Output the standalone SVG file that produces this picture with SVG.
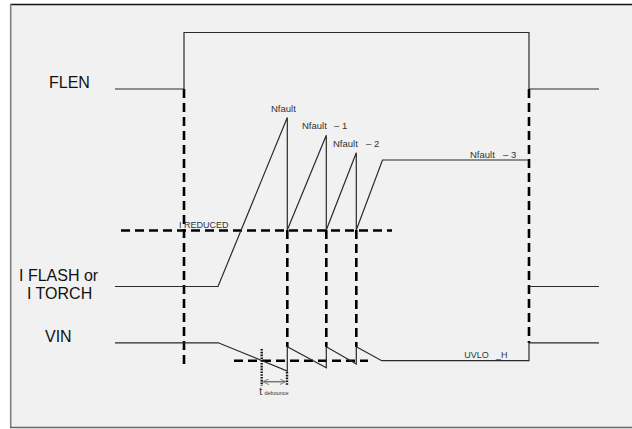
<svg xmlns="http://www.w3.org/2000/svg" width="632" height="429" viewBox="0 0 632 429">
<defs>
<style>
.sig{fill:none;stroke:#2a2a2a;stroke-width:1.2}
.dash{fill:none;stroke:#000;stroke-width:2.6;stroke-dasharray:9,5}
.dot{fill:none;stroke:#111;stroke-width:2.4;stroke-dasharray:1.6,1.2}
.lbl{font-family:"Liberation Sans",Arial,sans-serif;fill:#111}
.big{font-size:16px}
.sm{font-size:9.5px;fill:#333}
</style>
<marker id="ah" viewBox="0 0 10 10" refX="10" refY="5" markerWidth="6" markerHeight="6" orient="auto-start-reverse" markerUnits="userSpaceOnUse">
<path d="M0,0 L10,5 L0,10" fill="none" stroke="#777" stroke-width="1.5"/>
</marker>
</defs>
<rect x="0" y="0" width="632" height="429" fill="#ffffff"/>
<rect x="10.5" y="4.5" width="630" height="423" fill="#f1f1f1"/>
<line x1="10" y1="4.5" x2="632" y2="4.5" stroke="#111" stroke-width="1.5"/>
<line x1="10.7" y1="4" x2="10.7" y2="428" stroke="#808080" stroke-width="1.6"/>
<line x1="10" y1="427.5" x2="632" y2="427.5" stroke="#666" stroke-width="1.6"/>

<g id="labels">
<text class="lbl big" x="49" y="88">FLEN</text>
<text class="lbl big" x="19" y="281">I FLASH or</text>
<text class="lbl big" x="27" y="299">I TORCH</text>
<text class="lbl big" x="45" y="342">VIN</text>
</g>

<g id="connectors">
<line class="dash" x1="184" y1="89" x2="184" y2="367"/>
<line class="dash" x1="529" y1="89" x2="529" y2="343"/>
<line class="dash" x1="121" y1="230.5" x2="392" y2="230.5"/>
<line class="dash" x1="287.3" y1="230" x2="287.3" y2="347"/>
<line class="dash" x1="326.3" y1="230" x2="326.3" y2="347"/>
<line class="dash" x1="356.3" y1="230" x2="356.3" y2="347"/>
<line class="dash" x1="234" y1="360.7" x2="368" y2="360.7"/>
</g>

<g id="flen">
<polyline class="sig" points="115,89 184,89 184,32.5 529,32.5 529,89 599,89"/>
</g>

<g id="iflash">
<polyline class="sig" points="115,286.5 218,286.5 287.3,117.5 287.3,230 326.3,135.3 326.3,230 356.3,152.7 356.3,230 382.5,160 529,160"/>
<line class="sig" x1="529" y1="286.5" x2="599" y2="286.5"/>
<text class="lbl sm" x="271" y="111.5">Nfault</text>
<text class="lbl sm" x="302" y="129">Nfault<tspan x="334">– 1</tspan></text>
<text class="lbl sm" x="333" y="146.5">Nfault<tspan x="366">– 2</tspan></text>
<text class="lbl sm" x="470" y="157.5">Nfault<tspan x="503">– 3</tspan></text>
<text class="lbl" style="font-size:9px;fill:#333" x="179" y="227.5">I REDUCED</text>
</g>

<g id="vin">
<polyline class="sig" points="115,342.8 218.3,342.8 287.3,371 287.3,346.7 326.3,367.7 326.3,346.7 356.3,364 356.3,346.7 381.7,360.7 529,360.7 529,342.8 599,342.8"/>
<text class="lbl" style="font-size:9px;fill:#333" x="464.3" y="357.5">UVLO<tspan x="496">_H</tspan></text>
</g>

<g id="debounce">
<line class="dot" x1="261.7" y1="349" x2="261.7" y2="386"/>
<line class="dot" x1="287" y1="372" x2="287" y2="386"/>
<line x1="263" y1="381.7" x2="285.5" y2="381.7" stroke="#777" stroke-width="1.5" marker-start="url(#ah)" marker-end="url(#ah)"/>
<text class="lbl" style="font-size:10.5px;fill:#333" x="259.3" y="394.5">t<tspan style="font-size:5.5px" x="264.5">debounce</tspan></text>
</g>
</svg>
